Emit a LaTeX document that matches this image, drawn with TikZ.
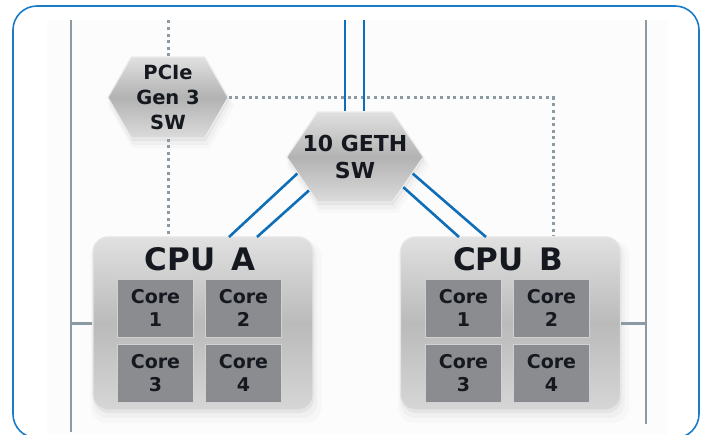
\documentclass[tikz,border=0pt]{standalone}
\usepackage{fontspec}
\setmainfont{DejaVu Sans}
\usetikzlibrary{shapes.symbols,shadows,positioning}
\definecolor{framebl}{HTML}{1A7BC6}
\definecolor{linkbl}{HTML}{0E6FB8}
\definecolor{railgr}{HTML}{8C9AA4}
\definecolor{coregr}{HTML}{8A8C8F}
\definecolor{txtdk}{HTML}{15191F}
\tikzset{
 softshadow/.style={drop shadow={shadow xshift=3pt,shadow yshift=-8pt,shadow scale=1.05,opacity=.04},
  drop shadow={shadow xshift=2pt,shadow yshift=-6pt,shadow scale=1.02,opacity=.06},
  drop shadow={shadow xshift=1pt,shadow yshift=-3pt,opacity=.10}},
 cpubox/.style={rectangle,rounded corners=15pt,draw=white!80!gray,line width=1.2pt,
  top color=black!12,bottom color=black!16,middle color=black!27,
  minimum width=220pt,minimum height=173pt,softshadow},
 cpulbl/.style={font=\bfseries\fontsize{31}{32}\selectfont,text=txtdk,inner sep=0pt},
 corebox/.style={rectangle,fill=coregr,draw=white!60!coregr,line width=.8pt,
  minimum width=76pt,minimum height=58pt,inner sep=0pt,align=center,text=txtdk,
  font=\bfseries\fontsize{19}{23}\selectfont},
 hexsw/.style={signal,signal to=west and east,draw=white!85!gray,line width=1.2pt,
  top color=black!12,bottom color=black!14,middle color=black!30,inner ysep=0pt,
  align=center,text=txtdk,softshadow},
 link/.style={linkbl,line width=2.6pt},
 ctrl/.style={railgr,line width=3pt,dash pattern=on 3pt off 3.6pt},
 rail/.style={railgr,line width=2.4pt}}

\begin{document}
\begin{tikzpicture}[x=1pt,y=-1pt]
 \useasboundingbox (0,0) rectangle (706,434);
 \fill[black!1] (47,20) rectangle (668,434);
 \draw[framebl,line width=1.6pt,rounded corners=24pt] (13,6) rectangle (699,438);
 % side rails
 \coordinate (ltop) at (71,20);
 \coordinate (lbot) at (71,432);
 \coordinate (rtop) at (646,20);
 \coordinate (rbot) at (646,424);
 \draw[rail] (ltop) -- (lbot);
 \draw[rail] (rtop) -- (rbot);
 % switches
 \node[hexsw,signal pointer angle=120,inner xsep=5pt,minimum height=81pt,
  font=\bfseries\fontsize{19.5}{25}\selectfont] (pcie) at (168,97.5) {PCIe\\Gen 3\\SW};
 \node[hexsw,signal pointer angle=111,inner xsep=-15pt,minimum height=90pt,
  font=\bfseries\fontsize{22}{27}\selectfont] (geth) at (355,157) {10 GETH\\SW};
 % processors
 \node[cpubox] (cpua) at (203,323.5) {};
 \node[cpubox] (cpub) at (510.5,323.5) {};
 \node[cpulbl] (lbla) at (200,259) {CPU\hspace{.5em}A};
 \node[cpulbl] (lblb) at (508,259) {CPU\hspace{.5em}B};
 \foreach \cx/\nm in {155.5/a,463.5/b} {
  \node[corebox] (c1\nm) at (\cx,308) {Core\\1};
  \node[corebox] (c2\nm) at (\cx+88,308) {Core\\2};
  \node[corebox] (c3\nm) at (\cx,373) {Core\\3};
  \node[corebox] (c4\nm) at (\cx+88,373) {Core\\4};
 }
 \draw[rail] (cpua.west) -- (cpua.west -| ltop);
 \draw[rail] (cpub.east) -- (cpub.east -| rtop);
 % pcie control
 \draw[ctrl] (pcie.north) -- (pcie.north |- ltop);
 \draw[ctrl] (pcie.south) -- (pcie.south |- cpua.north);
 \draw[ctrl] (pcie.east) -| ([xshift=42.5pt]cpub.north);
 % ethernet links
 \coordinate (up1) at (345,20);
 \coordinate (up2) at (364,20);
 \draw[link] (up1) -- (up1 |- geth.north);
 \draw[link] (up2) -- (up2 |- geth.north);
 \coordinate (la1) at (229,237);
 \coordinate (la2) at (257,237);
 \coordinate (lb1) at (486,237);
 \coordinate (lb2) at (459,237);
 \draw[link] (geth.196) -- (la1);
 \draw[link] (geth.216) -- (la2);
 \draw[link] (geth.-16) -- (lb1);
 \draw[link] (geth.-32) -- (lb2);
\end{tikzpicture}
\end{document}
